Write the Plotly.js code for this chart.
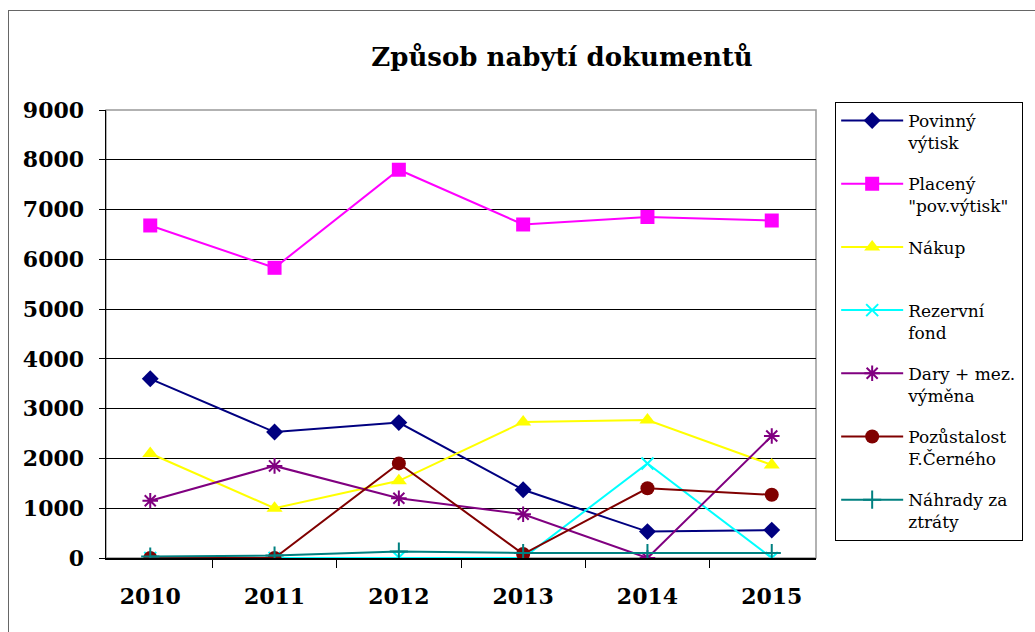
<!DOCTYPE html>
<html><head><meta charset="utf-8">
<script src="https://cdn.plot.ly/plotly-3.0.1.min.js"></script>
<style>
body{margin:0;padding:0;overflow:hidden;background:#fff;}
#chart{position:absolute;left:0;top:0;width:1035px;height:632px;}
#frame{position:absolute;left:8px;top:10px;width:1100px;height:700px;border:1.5px solid #666;pointer-events:none;}
</style></head>
<body>
<div id="chart"></div>
<div id="frame"></div>
<script>
const years = ['2010','2011','2012','2013','2014','2015'];
const povinny = [3600, 2530, 2720, 1370, 530, 560];
const placeny = [6680, 5830, 7800, 6700, 6850, 6780];
const nakup = [2100, 1000, 1550, 2730, 2770, 1870];
const rezervni = [0, 0, 10, 0, 1900, 0];
const dary = [1150, 1850, 1200, 880, 0, 2450];
const pozustalost = [0, 0, 1900, 80, 1400, 1270];
const nahrady = [30, 50, 130, 100, 100, 100];

const names = ['Povinný<br>výtisk','Placený<br>"pov.výtisk"','Nákup<br> ','Rezervní<br>fond','Dary + mez.<br>výměna','Pozůstalost<br>F.Černého','Náhrady za<br>ztráty'];
const series = [povinny, placeny, nakup, rezervni, dary, pozustalost, nahrady];
const colors = ['#000080','#FF00FF','#FFFF00','#00FFFF','#800080','#800000','#008080'];
const symbols = ['diamond','square','triangle-up','x-thin','asterisk-open','circle','cross-thin'];
const msizes = [13,14,14,12,13,14,13];

const traces = series.map((s,i)=>({
  x: years, y: s, name: names[i], type:'scatter', mode:'lines+markers',
  legendgroup: 'g'+i,
  line:{color:colors[i], width:2},
  marker:{symbol:symbols[i], size:msizes[i], color:colors[i], line:{color:colors[i], width:(symbols[i].indexOf('thin')>=0||symbols[i].indexOf('asterisk')>=0)?2:0}}
}));

const layout = {
  width:1035, height:632,
  margin:{l:106, r:219, t:110, b:74},
  paper_bgcolor:'#fff', plot_bgcolor:'#fff',
  font:{family:'"DejaVu Serif", serif', color:'#000'},
  title:{text:'<b>Způsob nabytí dokumentů</b>', font:{size:26, family:'"DejaVu Serif", serif'}, xref:'container', x:0.543, xanchor:'center', yref:'container', y:0.91, yanchor:'middle'},
  xaxis:{type:'category', tickson:'boundaries', ticks:'outside', ticklen:8, tickcolor:'#000',
    showline:true, linecolor:'#000', linewidth:1.5, showgrid:false, ticklabelstandoff:18,
    tickfont:{size:22, family:'"DejaVu Serif", serif', weight:'bold'}, tickangle:0},
  yaxis:{range:[0,9000], dtick:1000, ticks:'outside', ticklen:6, tickcolor:'#000',
    showline:true, linecolor:'#000', linewidth:1.5, showgrid:true, gridcolor:'#000', gridwidth:1,
    zeroline:false, tickformat:'d', ticklabelstandoff:10,
    tickfont:{size:22, family:'"DejaVu Serif", serif', weight:'bold'}},
  showlegend:true,
  legend:{x:1.027, xanchor:'left', y:1.018, yanchor:'top', bordercolor:'#000', borderwidth:1,
    font:{size:17, family:'"DejaVu Serif", serif'}, valign:'top', traceorder:'grouped', tracegroupgap:16,
    itemwidth:62, maxheight:600},
  shapes:[{type:'rect', xref:'paper', yref:'paper', x0:0, x1:1, y0:0, y1:1, line:{color:'#999', width:1.5}, layer:'below'}]
};

Plotly.newPlot('chart', traces, layout, {displayModeBar:false, staticPlot:true});
</script>
</body></html>
